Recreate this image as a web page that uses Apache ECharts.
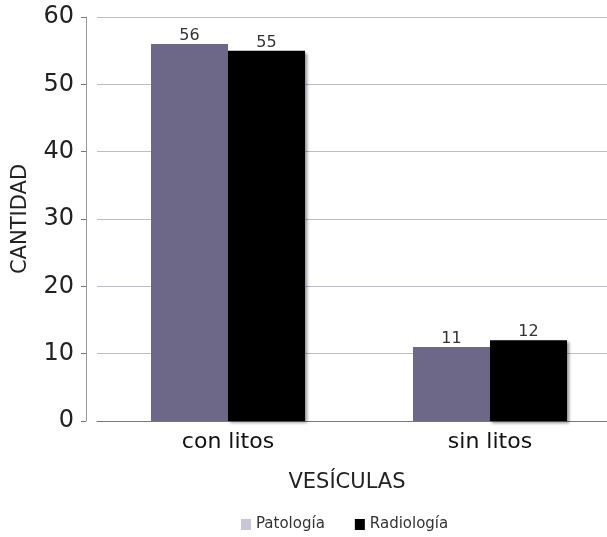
<!DOCTYPE html>
<html>
<head>
<meta charset="utf-8">
<script src="https://cdn.jsdelivr.net/npm/echarts@6/dist/echarts.min.js"></script>
<style>
  html, body { margin: 0; padding: 0; background: #fff; overflow: hidden; }
  #chart { width: 640px; height: 537px; }
</style>
</head>
<body>
<div id="chart"></div>
<script>
// Gallbladder findings: counts by pathology vs. radiology
const categories = ['con litos', 'sin litos'];
const patologia = [56, 11];
const radiologia = [55, 12];
const yTicks = { min: 0, max: 60, interval: 10 };

const FONT = 'DejaVu Sans, Verdana, sans-serif';

const chart = echarts.init(document.getElementById('chart'), null, { renderer: 'canvas' });

const labelStyle = {
  show: true,
  position: 'top',
  distance: 0,
  color: '#333',
  fontFamily: FONT,
  fontSize: 16
};

chart.setOption({
  animation: false,
  backgroundColor: '#ffffff',
  grid: { left: 97, top: 17, width: 524, height: 404 },
  legend: {
    bottom: 0,
    left: 236,
    itemWidth: 10,
    itemHeight: 11,
    itemGap: 30,
    icon: 'rect',
    textStyle: { fontFamily: FONT, fontSize: 15, color: '#333' },
    data: [
      { name: 'Patología', itemStyle: { color: '#c9c6da' } },
      { name: 'Radiología', itemStyle: { color: '#000000' } }
    ]
  },
  xAxis: {
    type: 'category',
    data: categories,
    name: 'VESÍCULAS',
    nameLocation: 'middle',
    nameGap: 51,
    nameTextStyle: { fontFamily: FONT, fontSize: 21, color: '#222', padding: [0, 24, 0, 0] },
    axisLine: { lineStyle: { color: '#777', width: 1 } },
    axisTick: { show: false },
    axisLabel: { fontFamily: FONT, fontSize: 22, color: '#111', margin: 10 }
  },
  yAxis: {
    type: 'value',
    min: yTicks.min,
    max: yTicks.max,
    interval: yTicks.interval,
    offset: 11,
    name: 'CANTIDAD',
    nameLocation: 'middle',
    nameGap: 55,
    nameTextStyle: { fontFamily: FONT, fontSize: 21, color: '#222' },
    axisLine: { show: true, lineStyle: { color: '#999', width: 1 } },
    axisTick: { show: true, inside: false, length: 5, lineStyle: { color: '#777' } },
    axisLabel: { fontFamily: FONT, fontSize: 24, color: '#222', margin: 12 },
    splitLine: { show: true, lineStyle: { color: '#bdbdc8', width: 1 } }
  },
  series: [
    {
      name: 'Patología',
      type: 'bar',
      data: patologia,
      barWidth: 77,
      barGap: '0%',
      itemStyle: { color: '#6d6888' },
      label: labelStyle
    },
    {
      name: 'Radiología',
      type: 'bar',
      data: radiologia,
      barWidth: 77,
      barGap: '0%',
      itemStyle: {
        color: '#000000',
        shadowColor: 'rgba(0,0,0,0.45)',
        shadowBlur: 3,
        shadowOffsetX: 2,
        shadowOffsetY: 2
      },
      label: labelStyle
    }
  ]
});
</script>
</body>
</html>
